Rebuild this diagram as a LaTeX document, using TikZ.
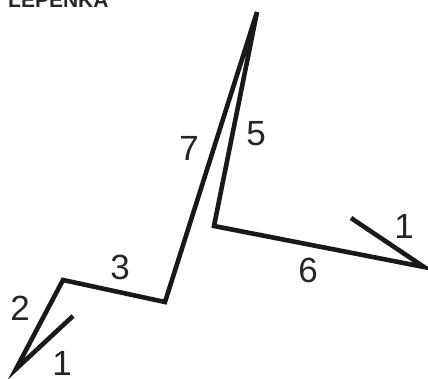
\documentclass[tikz,border=0pt]{standalone}
\usepackage{fontspec}
\setmainfont{Liberation Sans}
\begin{document}
\begin{tikzpicture}[x=1pt,y=-1pt,
  fold/.style={line width=4.6pt,line join=miter,line cap=butt,black!90},
  num/.style={font=\fontsize{35}{35}\selectfont,text=black!85,inner sep=0pt}]
\useasboundingbox (0,0) rectangle (428,378);
\coordinate (p0) at (73,316);
\coordinate (p1) at (16,369);
\coordinate (p2) at (63,280);
\coordinate (p3) at (165,302);
\coordinate (p4) at (257,12);
\coordinate (p5) at (214,226);
\coordinate (p6) at (424,267);
\coordinate (p7) at (351,218);
\draw[fold] (p0) -- (p1) -- (p2) -- (p3) -- (p4) -- (p5) -- (p6) -- (p7);
\node[anchor=base west,inner sep=0pt,font=\bfseries\fontsize{21}{21}\selectfont,text=black!85] (title) at (8,7) {LEPENKA};
\node[num] (l1a) at (62,363) {1};
\node[num] (l2) at (20,308) {2};
\node[num] (l3) at (120,267) {3};
\node[num] (l7) at (189,148) {7};
\node[num] (l5) at (256,134) {5};
\node[num] (l6) at (308,270) {6};
\node[num] (l1b) at (404,226) {1};
\end{tikzpicture}
\end{document}
